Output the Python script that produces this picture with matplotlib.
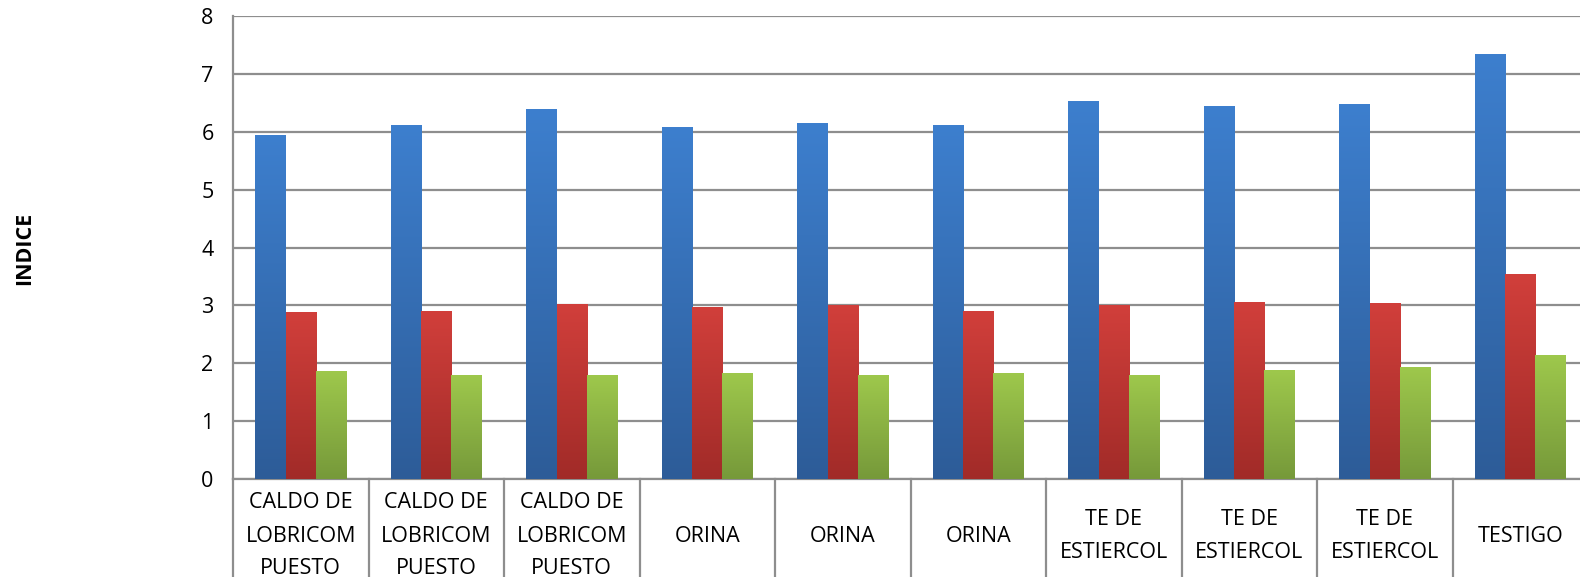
import matplotlib
matplotlib.use("Agg")
import matplotlib.pyplot as plt
import matplotlib.transforms as mtransforms
from matplotlib.colors import LinearSegmentedColormap
import numpy as np

# categories along the x axis
categories = [
    "CALDO DE\nLOBRICOM\nPUESTO", "CALDO DE\nLOBRICOM\nPUESTO", "CALDO DE\nLOBRICOM\nPUESTO",
    "ORINA", "ORINA", "ORINA",
    "TE DE\nESTIERCOL", "TE DE\nESTIERCOL", "TE DE\nESTIERCOL",
    "TESTIGO",
]
# three series (blue, red, green)
serie1 = [5.94, 6.11, 6.39, 6.08, 6.15, 6.10, 6.52, 6.43, 6.47, 7.34]
serie2 = [2.88, 2.90, 3.02, 2.97, 3.00, 2.90, 2.99, 3.05, 3.03, 3.53]
serie3 = [1.85, 1.78, 1.79, 1.82, 1.79, 1.82, 1.78, 1.87, 1.92, 2.14]
y_ticks = [0, 1, 2, 3, 4, 5, 6, 7, 8]
y_label = "INDICE"

# top / bottom colours of each gradient
grads = [("#3d7fce", "#2d5c98"), ("#d13f3b", "#a12b28"), ("#9ec84c", "#76993a")]

plt.rcParams["font.family"] = ["Open Sans", "DejaVu Sans"]

W, H = 1580, 577
fig = plt.figure(figsize=(W / 100, H / 100), dpi=100)
left_px, right_px, top_px, bot_px = 233, 1588, 16, 479
ax = fig.add_axes([left_px / W, 1 - bot_px / H, (right_px - left_px) / W, (bot_px - top_px) / H])

n = len(categories)
x = np.arange(n)
bw = 0.224
offsets = [-bw, 0, bw]

ax.set_xlim(-0.5, n - 0.5)
ax.set_ylim(0, 8)

grad = np.linspace(1, 0, 256).reshape(-1, 1)
for vals, off, (ctop, cbot) in zip([serie1, serie2, serie3], offsets, grads):
    bars = ax.bar(x + off, vals, width=bw, color=ctop, edgecolor="none", zorder=2)
    cmap = LinearSegmentedColormap.from_list("g", [cbot, ctop])
    for b in bars:
        x0 = b.get_x()
        h = b.get_height()
        ax.imshow(grad, extent=[x0, x0 + bw, 0, h], aspect="auto", cmap=cmap,
                  vmin=0, vmax=1, zorder=3, interpolation="bilinear")

ax.set_xlim(-0.5, n - 0.5)
ax.set_ylim(0, 8)

ax.set_yticks(y_ticks)
ax.yaxis.grid(True, color="#8e8e8e", linewidth=1.6, zorder=0)
ax.set_axisbelow(True)
ax.tick_params(axis="y", length=0, pad=14, labelsize=15.5, colors="black")
ax.set_xticks([])
for s in ["top", "right"]:
    ax.spines[s].set_visible(False)
ax.spines["left"].set_color("#8e8e8e")
ax.spines["left"].set_linewidth(1.6)
ax.spines["bottom"].set_color("#8e8e8e")
ax.spines["bottom"].set_linewidth(1.6)

# category boxes below the axis
trans = mtransforms.blended_transform_factory(ax.transData, ax.transAxes)
box_bottom = -(H - bot_px + 5) / (bot_px - top_px)
for i in range(n + 1):
    ax.plot([i - 0.5, i - 0.5], [0, box_bottom], transform=trans, color="#8e8e8e",
            linewidth=1.6, clip_on=False)
label_y = -(536 - bot_px) / (bot_px - top_px)
for i, lab in enumerate(categories):
    ax.text(i, label_y, lab, transform=trans, ha="center", va="center",
            multialignment="center", fontsize=15.5, linespacing=1.75)

fig.text(25 / W, 1 - 248 / H, y_label, rotation=90, ha="center", va="center",
         fontsize=15.5, fontweight="bold")

fig.savefig("out.png", dpi=100)
